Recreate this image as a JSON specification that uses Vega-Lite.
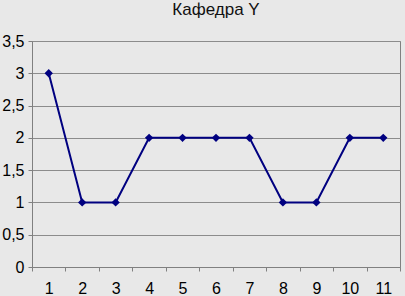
{
  "$schema": "https://vega.github.io/schema/vega-lite/v6.json",
  "width": 368,
  "height": 226,
  "autosize": {"type": "none"},
  "padding": {"left": 32, "top": 41, "right": 5, "bottom": 29},
  "background": "#e8e8e8",
  "title": {"text": "Кафедра Y", "fontSize": 17, "font": "Liberation Sans", "fontWeight": "normal", "color": "#111111", "offset": 14},
  "config": {
    "view": {"stroke": "#808080", "strokeWidth": 1, "fill": "#e8e8e8"},
    "font": "Liberation Sans"
  },
  "data": {"values": [
    {"x": 1, "y": 3}, {"x": 2, "y": 1}, {"x": 3, "y": 1}, {"x": 4, "y": 2},
    {"x": 5, "y": 2}, {"x": 6, "y": 2}, {"x": 7, "y": 2}, {"x": 8, "y": 1},
    {"x": 9, "y": 1}, {"x": 10, "y": 2}, {"x": 11, "y": 2}
  ]},
  "mark": {"type": "line", "color": "#000080", "strokeWidth": 2, "point": {"shape": "diamond", "size": 70, "filled": true, "color": "#000080"}},
  "encoding": {
    "x": {"field": "x", "type": "ordinal", "title": null,
      "scale": {"paddingInner": 0, "paddingOuter": 0},
      "axis": {"labelAngle": 0, "bandPosition": 0, "labelFontSize": 16, "labelColor": "#000000", "domainColor": "#808080", "tickColor": "#808080", "tickSize": 4, "labelPadding": 9, "grid": false, "tickBand": "extent"}},
    "y": {"field": "y", "type": "quantitative", "title": null,
      "scale": {"domain": [0, 3.5]},
      "axis": {"values": [0, 0.5, 1, 1.5, 2, 2.5, 3, 3.5], "format": ",.1~f", "labelExpr": "replace(datum.label, '.', ',')", "labelFontSize": 16, "labelColor": "#000000", "domainColor": "#808080", "tickColor": "#808080", "tickSize": 4, "labelPadding": 4, "gridColor": "#8c8c8c", "gridWidth": 1}}
  }
}
